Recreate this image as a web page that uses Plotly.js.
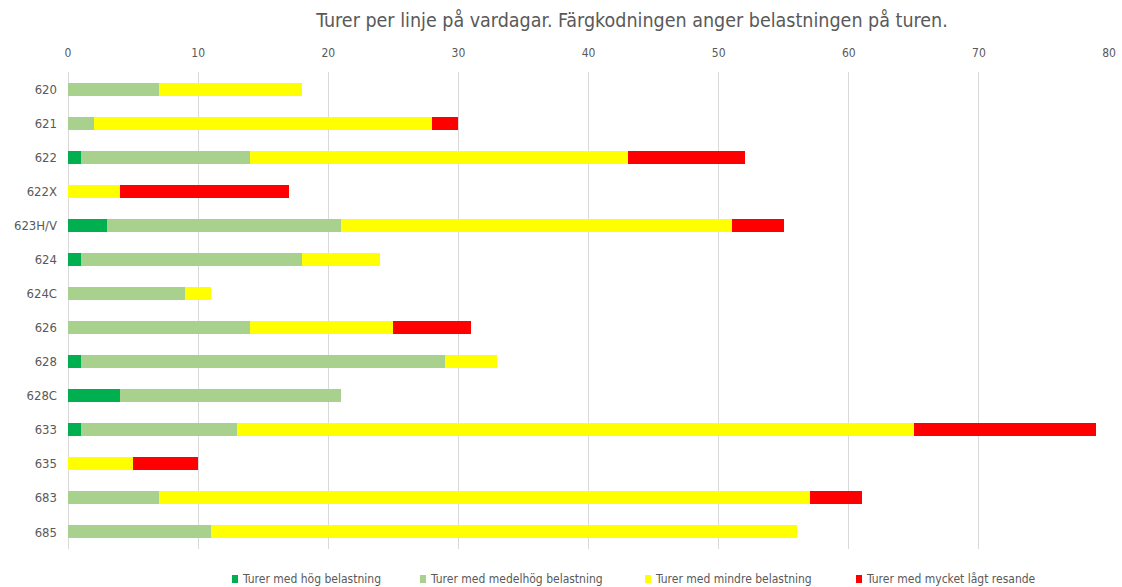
<!DOCTYPE html>
<html>
<head>
<meta charset="utf-8">
<script src="https://cdn.plot.ly/plotly-3.0.1.min.js"></script>
<style>html,body{margin:0;padding:0;background:#fff;}#chart{width:1122px;height:587px;}</style>
</head>
<body>
<div id="chart"></div>
<script>
const lines = ["620","621","622","622X","623H/V","624","624C","626","628","628C","633","635","683","685"];
const hog      = [0, 0, 1, 0, 3, 1, 0, 0, 1, 4, 1, 0, 0, 0];
const medelhog = [7, 2, 13, 0, 18, 17, 9, 14, 28, 17, 12, 0, 7, 11];
const mindre   = [11, 26, 29, 4, 30, 6, 2, 11, 4, 0, 52, 5, 50, 45];
const lagt     = [0, 2, 9, 13, 4, 0, 0, 6, 0, 0, 14, 5, 4, 0];
const seriesNames = ["Turer med hög belastning","Turer med medelhög belastning","Turer med mindre belastning","Turer med mycket lågt resande"];
const colors = ["#00B050","#A9D18E","#FFFF00","#FF0000"];
const xTicks = [0,10,20,30,40,50,60,70,80];

const W = 1122, H = 587;
const M = {l: 68, r: 13, t: 72, b: 38};
const PW = W - M.l - M.r, PH = H - M.t - M.b;
const px2x = px => (px - M.l) / PW;
const py2y = py => (H - M.b - py) / PH;

const font = "DejaVu Sans Condensed, Liberation Sans Narrow, sans-serif";
const data = [hog, medelhog, mindre, lagt].map((vals, i) => ({
  type: "bar", orientation: "h",
  y: lines, x: vals, name: seriesNames[i],
  marker: {color: colors[i]}, width: 0.38,
  showlegend: false
}));

// manual legend (small squares + text) placed like the reference
const legSquareX = [232, 420, 645, 856];
const legendY = 579;
const shapes = seriesNames.map((n, i) => ({
  type: "rect", xref: "paper", yref: "paper",
  x0: px2x(legSquareX[i]), x1: px2x(legSquareX[i] + 6),
  y0: py2y(legendY + 4), y1: py2y(legendY - 4),
  fillcolor: colors[i], line: {width: 0}
}));
const annotations = seriesNames.map((n, i) => ({
  text: n, xref: "paper", yref: "paper",
  x: px2x(legSquareX[i] + 8), y: py2y(legendY),
  xanchor: "left", yanchor: "middle", showarrow: false,
  font: {size: 12, color: "#595959", family: font}
}));

const layout = {
  width: W, height: H,
  margin: {l: M.l, r: M.r, t: M.t, b: M.b, autoexpand: false},
  barmode: "stack",
  paper_bgcolor: "#fff", plot_bgcolor: "#fff",
  font: {family: font, color: "#595959", size: 12},
  title: {text: "Turer per linje på vardagar. Färgkodningen anger belastningen på turen.",
          font: {size: 19.5, color: "#595959", family: font},
          x: 632 / W, xanchor: "center", xref: "container", y: 1 - 20 / H, yanchor: "middle", yref: "container"},
  xaxis: {side: "top", range: [0, 80], tickvals: xTicks, ticktext: xTicks.map(String),
          showgrid: true, gridcolor: "#D9D9D9", gridwidth: 1, zeroline: true, zerolinecolor: "#D9D9D9", zerolinewidth: 1,
          showline: false, ticks: "", ticklabelstandoff: 12, tickfont: {size: 12, color: "#595959"}},
  yaxis: {type: "category", categoryorder: "array", categoryarray: lines, autorange: "reversed",
          showgrid: false, zeroline: false, showline: false, ticks: "", ticklabelstandoff: 10,
          tickfont: {size: 13, color: "#595959"}},
  showlegend: false,
  shapes: shapes,
  annotations: annotations
};
Plotly.newPlot("chart", data, layout, {displayModeBar: false, staticPlot: true});
</script>
</body>
</html>
